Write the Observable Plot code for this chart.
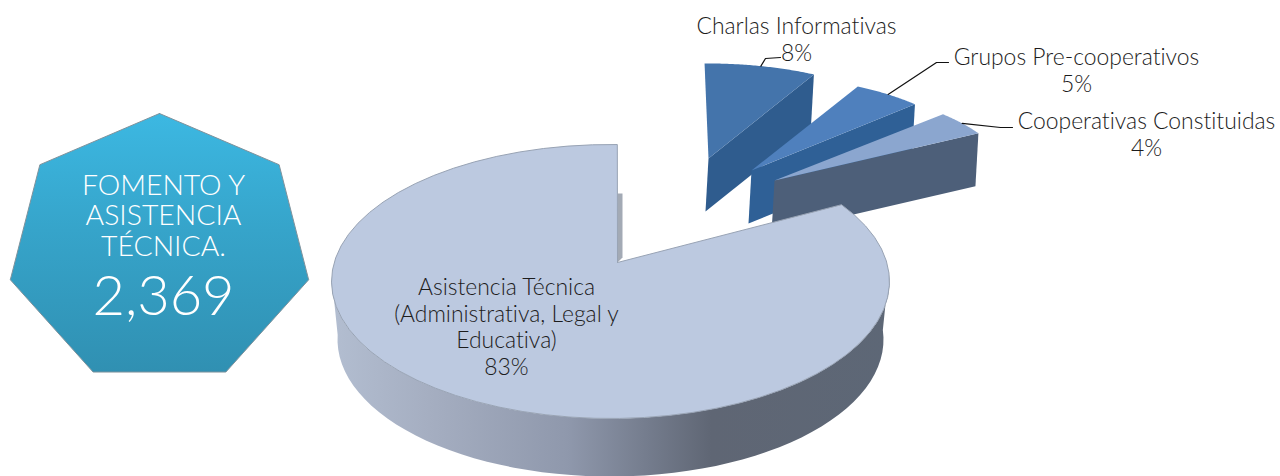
<!DOCTYPE html>
<html><head><meta charset="utf-8">
<script src="https://cdn.jsdelivr.net/npm/d3@7"></script>
<script src="https://cdn.jsdelivr.net/npm/@observablehq/plot@0.6"></script>
<style>html,body{margin:0;background:#fff}svg{display:block}svg text{font-variant-ligatures:none}</style>
</head><body><div id="chart"></div>
<script>
// Data
const categories = ["Charlas Informativas", "Grupos Pre-cooperativos", "Cooperativas Constituidas", "Asistencia Técnica"];
const shares = [8, 5, 4, 83];
const shareLabels = ["8%", "5%", "4%", "83%"];
const badgeTitle = ["FOMENTO Y", "ASISTENCIA", "TÉCNICA."];
const badgeValue = "2,369";
const bigLabel = ["Asistencia Técnica", "(Administrativa, Legal y", "Educativa)", "83%"];

// Layout
const rad = d => d * Math.PI / 180;
const total = d3.sum(shares);
let acc = -1;
const angles = shares.map(v => { const a0 = acc; acc += v / total * 360; return [a0, acc]; });
const wedgeApex = [[708, 158], [751, 170], [774, 180]];
const wedgeRx = [226, 228, 235], wedgeRy = 95, wedgeDepth = 53;
const topFill = ["#4474ab", "#4f80bd", "#8ba6cf"];
const sideFill = ["#2f5c8e", "#2f6096", "#4d5f79"];
const bigC = [610, 281], bigR = [279, 137];
const bigApex = [617, 262], bigBottomC = [610, 339], bigBottomRx = 273;
const bigWarp = d3.scaleLinear().domain(angles[3]).range([55.9, 361.4]);
const rim = (c, rx, ry, a) => [c[0] + rx * Math.sin(rad(a)), c[1] - ry * Math.cos(rad(a))];
const arc = (c, rx, ry, a0, a1) => d3.range(0, 61).map(i => rim(c, rx, ry, a0 + (a1 - a0) * i / 60));

const poly = (pts, fill, extra = {}) => Plot.line([...pts, pts[0]], {x: d => d[0], y: d => d[1], fill, stroke: "none", ...extra});
const labels = (rows, opts = {}) => Plot.text(rows, {x: "x", y: "y", text: "t", fontFamily: "Lato", fontSize: 22.9, fontWeight: 300, fill: "#1c1c1c", ...opts});
const leader = pts => Plot.line(pts, {x: d => d[0], y: d => d[1], stroke: "#111", strokeWidth: 1.2});

const wedgeMarks = [0, 1, 2].flatMap(i => {
  const ap = wedgeApex[i], [a0, a1] = angles[i];
  const end = rim(ap, wedgeRx[i], wedgeRy, a1);
  return [
    poly([end, [ap[0], ap[1]], [ap[0] - 3, ap[1] + wedgeDepth], [end[0] - 3, end[1] + wedgeDepth]], sideFill[i]),
    poly([ap, ...arc(ap, wedgeRx[i], wedgeRy, a0, a1)], topFill[i])
  ];
});

const mid = i => rim(wedgeApex[i], wedgeRx[i], wedgeRy, (angles[i][0] + angles[i][1]) / 2);
const leaders = [
  [mid(0), [765, 58], [780, 57]],
  [mid(1), [936, 62], [948, 62]],
  [mid(2), [1000, 127], [1012, 127]]
];

const [b0, b1] = [bigWarp(angles[3][0]), bigWarp(angles[3][1])];
const bigTop = [bigApex, ...arc(bigC, bigR[0], bigR[1], b0, b1)];
const bigSide = [...arc(bigC, bigR[0], bigR[1], 86, 272), ...arc(bigBottomC, bigBottomRx, bigR[1], 272, 86)];
const innerCut = [bigApex, [622, 257], [622, 193], [617, 193]];

const sides = 7;
const badgeC = [159, 249], badgeR = [153, 136];
const badge = d3.range(sides).map(k => rim(badgeC, badgeR[0], badgeR[1], k * 360 / sides));

const defs = () => {
  const svgNS = d3.create("svg:g");
  const grad = (id, attrs, stops) => {
    const g = svgNS.append("linearGradient").attr("id", id);
    Object.entries(attrs).forEach(([k, v]) => g.attr(k, v));
    stops.forEach(([o, c]) => g.append("stop").attr("offset", o).attr("stop-color", c));
  };
  grad("bigSideGrad", {gradientUnits: "userSpaceOnUse", x1: 335, x2: 888, y1: 0, y2: 0},
    [[0, "#b2bdd0"], [0.17, "#a5aec1"], [0.42, "#8f98ac"], [0.56, "#757d8e"], [0.68, "#5f6674"], [1, "#5d6776"]]);
  grad("badgeGrad", {x1: 0, x2: 0, y1: 0, y2: 1},
    [[0, "#3cb8e2"], [0.45, "#36a4ca"], [1, "#3090b2"]]);
  const f = svgNS.append("filter").attr("id", "soft").attr("x", "-5%").attr("y", "-5%").attr("width", "110%").attr("height", "110%");
  f.append("feDropShadow").attr("dx", 0).attr("dy", 1).attr("stdDeviation", 1.5).attr("flood-color", "#555").attr("flood-opacity", 0.6);
  return svgNS.node();
};

const chart = Plot.plot({
  width: 1280, height: 476, margin: 0,
  x: {domain: [0, 1280], range: [0, 1280], axis: null},
  y: {domain: [0, 476], range: [0, 476], axis: null},
  style: {background: "#fff"},
  marks: [
    defs,
    ...wedgeMarks,
    poly(innerCut, "#a3aab5"),
    poly(bigSide, "url(#bigSideGrad)"),
    poly(bigTop, "#bcc9e0", {stroke: "#98a3b4", strokeWidth: 1}),
    ...leaders.map(leader),
    labels([
      {x: 796, y: 26, t: categories[0]}, {x: 796, y: 53, t: shareLabels[0]},
      {x: 1076, y: 57, t: categories[1]}, {x: 1076, y: 84, t: shareLabels[1]},
      {x: 1146, y: 121, t: categories[2]}, {x: 1146, y: 148, t: shareLabels[2]}
    ]),
    labels(bigLabel.map((t, i) => ({t, x: 506, y: 287 + i * 26.7}))),
    poly(badge, "url(#badgeGrad)", {stroke: "#7f929c", strokeWidth: 1, style: {filter: "url(#soft)"}}),
    labels(badgeTitle.map((t, i) => ({t, x: 163, y: 185 + i * 30.5})), {fill: "#fff", fontSize: 28.4}),
    labels([{t: badgeValue, x: 163, y: 297}], {fill: "#fff", fontSize: 56})
  ]
});
document.getElementById("chart").append(chart);
</script></body></html>
